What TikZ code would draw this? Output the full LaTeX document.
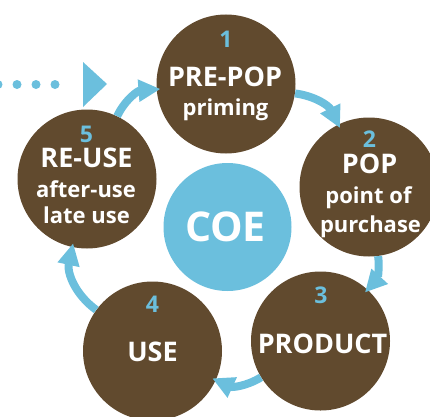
\documentclass[tikz,border=0pt]{standalone}
\usepackage{fontspec}
\setmainfont{Open Sans}
\usetikzlibrary{arrows.meta}
\definecolor{stagebrown}{RGB}{97,74,46}
\definecolor{cycleblue}{RGB}{107,191,221}

\begin{document}
\begin{tikzpicture}[x=1pt,y=1pt,
  stage/.style={circle, fill=stagebrown, minimum size=139pt, inner sep=0pt},
  hub/.style={circle, fill=cycleblue, minimum size=128pt, inner sep=0pt},
  num/.style={text=cycleblue, font=\bfseries\fontsize{23}{23}\selectfont, anchor=base, inner sep=0pt},
  head/.style={text=white, font=\bfseries\fontsize{27}{27}\selectfont, anchor=base, inner sep=0pt},
  sub/.style={text=white, font=\bfseries\fontsize{22}{22}\selectfont, anchor=base, inner sep=0pt},
  flow/.style={draw=cycleblue, line width=8pt, -{Triangle[length=22pt,width=21pt]}, shorten >=-4pt},
]
\clip (0,0) rectangle (430,416);

% stage circles and the hub
\node[stage] (c1) at (226,332) {};
\node[stage] (c2) at (369,229) {};
\node[stage] (c3) at (320.5,75) {};
\node[stage] (c4) at (152.5,65) {};
\node[stage] (c5) at (87,237) {};
\node[hub] (coe) at (227.5,189) {};

% cycle arrows
\draw[flow] (c5) to[bend left=30] (c1);
\draw[flow] (c1) to[bend left=28] (c2);
\draw[flow] (c2) to[bend left=25] (c3);
\draw[flow] (c3) to[bend left=28] (c4);
\draw[flow] (c4) to[bend left=33] (c5);

% incoming dotted arrow
\coordinate (dstart) at (-2,331.5);
\coordinate (dend) at (74,331.5);
\coordinate (tb1) at (83,354);
\coordinate (ttip) at (107,332);
\coordinate (tb2) at (83,309);
\draw[cycleblue, line width=9pt, line cap=round, dash pattern=on 0pt off 19pt] (dstart) -- (dend);
\fill[cycleblue] (tb1) -- (ttip) -- (tb2) -- cycle;

% labels
\node[num] (n1) at (226,368.5) {1};
\node[head] (h1) at (225,330) {PRE-POP};
\node[sub] (s1) at (225.5,301) {priming};

\node[num] (n2) at (369.5,269) {2};
\node[head] (h2) at (369.5,243) {POP};
\node[sub] (s2a) at (368.5,213) {point of};
\node[sub] (s2b) at (370.5,184) {purchase};

\node[num] (n3) at (321,113) {3};
\node[head] (h3) at (322.5,63) {PRODUCT};

\node[num] (n4) at (152.5,104) {4};
\node[head] (h4) at (152.5,55) {USE};

\node[num] (n5) at (86.5,274) {5};
\node[head] (h5) at (86.5,249) {RE-USE};
\node[sub] (s5a) at (86,219) {after-use};
\node[sub] (s5b) at (86.5,193) {late use};

\node[text=white, font=\bfseries\fontsize{41}{41}\selectfont, anchor=base, inner sep=0pt] (t0) at (225.5,175) {COE};
\end{tikzpicture}
\end{document}
